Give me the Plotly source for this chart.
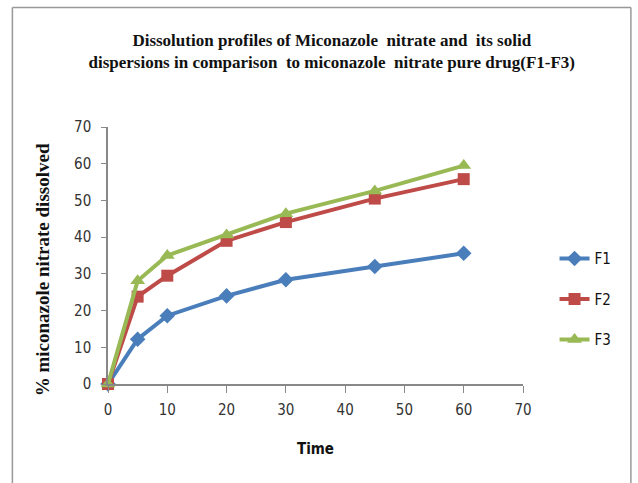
import plotly.graph_objects as go

time = [0, 5, 10, 20, 30, 45, 60]
f1 = [0, 12.2, 18.6, 24.0, 28.4, 32.0, 35.6]
f2 = [0, 23.8, 29.5, 39.0, 44.1, 50.5, 55.8]
f3 = [0, 28.1, 35.0, 40.6, 46.4, 52.6, 59.5]
names = ["F1", "F2", "F3"]
colors = ["#4a7ebb", "#be4b48", "#98b954"]
symbols = ["diamond", "square", "triangle-up"]
sizes = [12, 12, 13]
ticks = [0, 10, 20, 30, 40, 50, 60, 70]

fig = go.Figure()
for name, vals, c, s, sz in zip(names, [f1, f2, f3], colors, symbols, sizes):
    fig.add_trace(go.Scatter(
        x=time, y=vals, name=name, mode="lines+markers", legendgroup=name,
        line=dict(color=c, width=4),
        marker=dict(symbol=s, size=sz, color=c),
        cliponaxis=False,
    ))

tickfont = dict(family="DejaVu Sans Condensed, Liberation Sans Narrow, Arial", size=15, color="#333")
fig.update_layout(
    width=638, height=483,
    margin=dict(l=108, r=115, t=127, b=99),
    paper_bgcolor="white", plot_bgcolor="white",
    title=dict(
        text="<b>Dissolution profiles of Miconazole  nitrate and  its solid<br>dispersions in comparison  to miconazole  nitrate pure drug(F1-F3)</b>",
        font=dict(family="Liberation Serif", size=17, color="#111"),
        x=0.52, xanchor="center", y=0.905, yanchor="middle",
    ),
    xaxis=dict(
        range=[0, 70], tickvals=ticks, showgrid=False, zeroline=False,
        showline=True, linecolor="#888", linewidth=1.5,
        ticks="outside", tickcolor="#888", ticklen=7,
        tickfont=tickfont, ticklabelstandoff=4,
        title=dict(text="<b>Time</b>", font=dict(family="DejaVu Sans Condensed, Arial", size=15, color="#111"), standoff=26),
    ),
    yaxis=dict(
        range=[0, 70], tickvals=ticks, showgrid=False, zeroline=False,
        showline=True, linecolor="#888", linewidth=1.5,
        ticks="outside", tickcolor="#888", ticklen=5,
        tickfont=tickfont, ticklabelstandoff=7,
    ),
    legend=dict(
        x=1.076, y=0.33, xanchor="left", yanchor="middle",
        font=dict(family="DejaVu Sans Condensed, Arial", size=15, color="#111"),
        tracegroupgap=18, itemwidth=30, bgcolor="rgba(0,0,0,0)",
    ),
    showlegend=True,
)

fig.add_annotation(
    text="<b>% miconazole nitrate dissolved</b>", textangle=-90,
    xref="paper", yref="paper", x=-0.158, y=0.444, xanchor="center", yanchor="middle",
    showarrow=False, font=dict(family="Liberation Serif", size=19, color="#111"),
)

# outer frame (left, top, right edges)
for x0, y0, x1, y1 in [(-0.2304, -0.42, -0.2304, 1.4647), (-0.2304, 1.4647, 1.26, 1.4647), (1.26, 1.4647, 1.26, -0.42)]:
    fig.add_shape(type="line", xref="paper", yref="paper", x0=x0, y0=y0, x1=x1, y1=y1,
                  line=dict(color="#999", width=1.5))

fig.write_html("out.html")
